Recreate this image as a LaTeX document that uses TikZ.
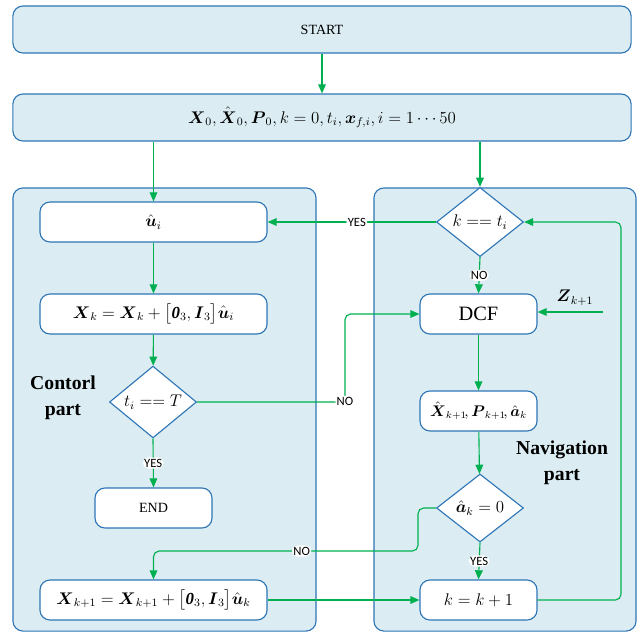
\documentclass[tikz,border=0pt]{standalone}
\usepackage{amsmath,amssymb}
\usepackage{fontspec}
\setmainfont{Liberation Serif}
\newfontfamily\lblfont{Carlito}
\usetikzlibrary{shapes.geometric,arrows.meta}
\definecolor{partbg}{RGB}{219,237,243}
\definecolor{edgeblue}{RGB}{46,117,182}
\definecolor{flow}{RGB}{0,176,80}

\begin{document}
\begin{tikzpicture}[x=0.025cm, y=-0.025cm,
    part/.style={draw=edgeblue, fill=partbg, line width=0.8pt, rounded corners=0.25cm,
                 inner sep=0pt},
    head/.style={part, minimum width=15.45cm, minimum height=1.175cm},
    proc/.style={draw=edgeblue, fill=white, line width=0.8pt, rounded corners=0.25cm,
                 minimum height=1cm, inner sep=0pt},
    wide/.style={proc, minimum width=5.675cm},
    small/.style={proc, minimum width=2.925cm},
    dec/.style={diamond, draw=edgeblue, fill=white, line width=0.8pt,
                minimum width=2.175cm, minimum height=1.7cm, inner sep=0pt},
    arr/.style={draw=flow, line width=0.8pt, rounded corners=4pt,
                -{Triangle[length=6.5pt, width=5.5pt]}},
    lbl/.style={font=\lblfont\fontsize{9}{10}\selectfont, fill=white, inner sep=1pt},
    ttl/.style={font=\bfseries\fontsize{14}{18.5}\selectfont, align=center},
    mth/.style={font=\fontsize{12}{14}\selectfont}]
  \useasboundingbox (0,0) rectangle (642,633);

  \node[head, font=\fontsize{10}{12}\selectfont] (start) at (322,29.5) {START};
  \node[head, font=\fontsize{11.5}{14}\selectfont] (init) at (322,117.5)
    {$\boldsymbol{X}_0, \hat{\boldsymbol{X}}_0, \boldsymbol{P}_0, k=0, t_i, \boldsymbol{x}_{f,i}, i=1\cdots50$};

  % control and navigation parts
  \node[part, minimum width=7.575cm, minimum height=11.075cm] (ctrl) at (164.5,409.5) {};
  \node[part, minimum width=6.55cm, minimum height=11.075cm] (nav) at (505,409.5) {};
  \node[ttl] (ctrltxt) at (63,398) {Contorl\\part};
  \node[ttl] (navtxt) at (562,463) {Navigation\\part};

  \node[wide, mth] (ui) at (153.5,222) {$\hat{\boldsymbol{u}}_i$};
  \node[wide, mth] (xk) at (153.5,314)
    {$\boldsymbol{X}_k = \boldsymbol{X}_k + \big[\boldsymbol{\mathit{0}}_3, \boldsymbol{I}_3\big]\hat{\boldsymbol{u}}_i$};
  \node[dec, mth] (tT) at (153,402) {$t_i \mathrel{==} T$};
  \node[small, font=\fontsize{10}{12}\selectfont] (end) at (153.5,508) {END};
  \node[wide, mth] (xk1) at (153.5,600)
    {$\boldsymbol{X}_{k+1} = \boldsymbol{X}_{k+1} + \big[\boldsymbol{\mathit{0}}_3, \boldsymbol{I}_3\big]\hat{\boldsymbol{u}}_k$};

  \node[dec, mth] (kt) at (480,222) {$k \mathrel{==} t_i$};
  \node[small, font=\fontsize{14.5}{16}\selectfont] (dcf) at (478.5,314) {DCF};
  \node[small, font=\fontsize{10.5}{12}\selectfont] (est) at (478.5,411)
    {$\hat{\boldsymbol{X}}_{k+1}\!, \boldsymbol{P}_{k+1}\!, \hat{\boldsymbol{a}}_k$};
  \node[dec, mth] (ak) at (480,508) {$\hat{\boldsymbol{a}}_k = 0$};
  \node[small, mth] (kk) at (478.5,600) {$k = k+1$};

  \node[mth] (zlab) at (575,298) {$\boldsymbol{Z}_{k+1}$};
  \coordinate (zin) at (603,312);
  \coordinate (noA) at (345,402);
  \coordinate (noB) at (418,551);
  \coordinate (loop) at (621,222);

  \draw[arr] (start) -- (init);
  \draw[arr] (init.south -| ui.north) -- (ui.north);
  \draw[arr] (init.south -| kt.north) -- (kt.north);
  \draw[arr] (kt.west) -- (ui.east) node[lbl, pos=0.47] {YES};
  \draw[arr] (kt.south) -- (dcf.north) node[lbl, midway] {NO};
  \draw[arr] (ui) -- (xk);
  \draw[arr] (xk) -- (tT);
  \draw[arr] (tT.south) -- (end.north) node[lbl, midway] {YES};
  \draw[arr] (tT.east) -- (noA) node[lbl, above=-4pt] {NO} |- (dcf.west);
  \draw[arr] (zin) -- (zin -| dcf.east);
  \draw[arr] (dcf) -- (est);
  \draw[arr] (est) -- (ak);
  \draw[arr] (ak.south) -- (kk.north) node[lbl, midway] {YES};
  \draw[arr] (ak.west) -| (noB) -| (xk1.north) node[lbl, pos=0.22] {NO};
  \draw[arr] (xk1.east) -- (xk1.east -| kk.west);
  \draw[arr] (kk.east) -| (loop) -- (kt.east);
\end{tikzpicture}
\end{document}
